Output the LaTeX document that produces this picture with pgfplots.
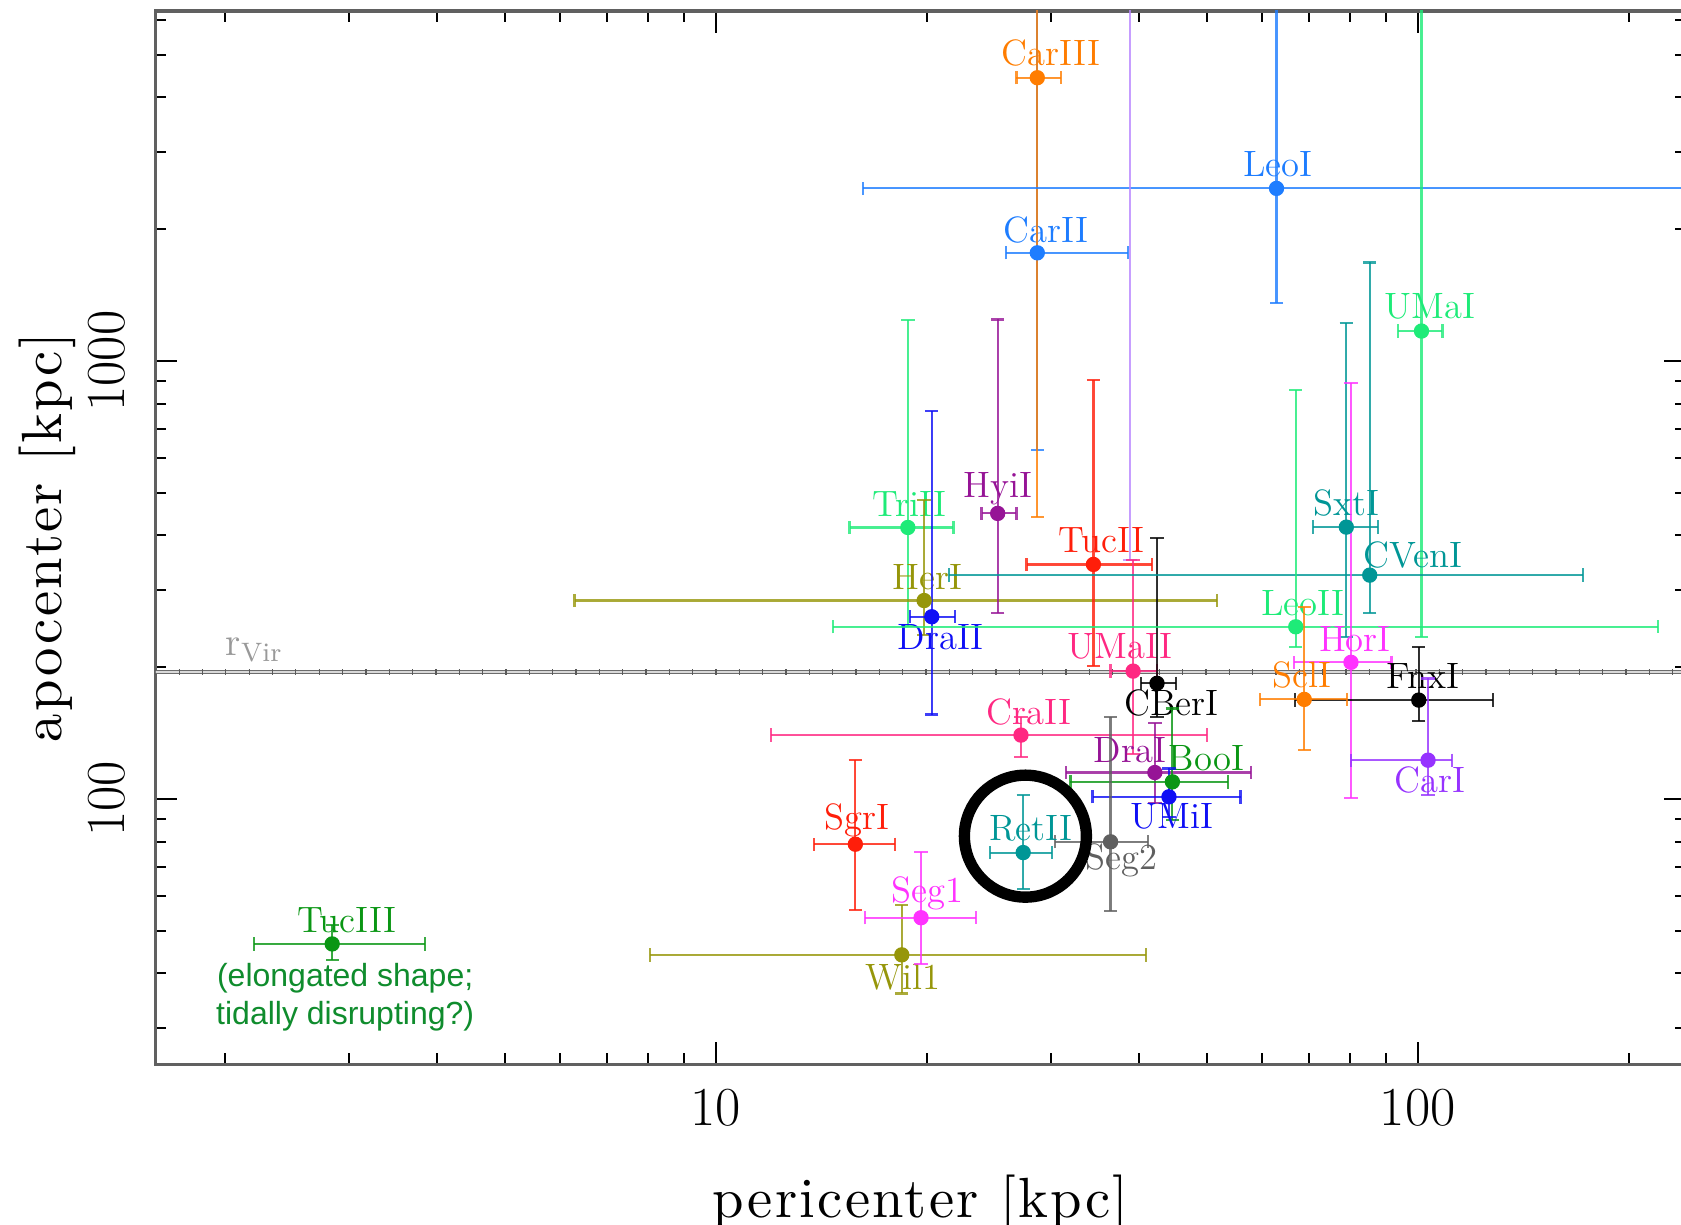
\documentclass[border=0pt]{standalone}
\usepackage{pgfplots}
\pgfplotsset{compat=1.18}
\usepackage{fontspec}
\newfontfamily\annfont{Liberation Sans}
\newfontfamily\lblfont[LetterSpace=4]{lmroman10-regular.otf}
\definecolor{cOrange}{RGB}{255,125,0}
\definecolor{cAzure}{RGB}{30,125,255}
\definecolor{cSpring}{RGB}{30,235,120}
\definecolor{cBlue}{RGB}{15,15,245}
\definecolor{cOlive}{RGB}{150,150,10}
\definecolor{cPurple}{RGB}{150,20,150}
\definecolor{cRed}{RGB}{255,30,10}
\definecolor{cPink}{RGB}{255,40,130}
\definecolor{cGreen}{RGB}{10,150,20}
\definecolor{cGray}{RGB}{95,95,95}
\definecolor{cTeal}{RGB}{0,150,150}
\definecolor{cMagenta}{RGB}{255,50,255}
\definecolor{cViolet}{RGB}{150,50,255}
\definecolor{cLav}{RGB}{185,135,255}
\definecolor{cAnn}{RGB}{15,140,45}
\newcommand\lf{\fontsize{11}{13}\selectfont}
\pgfplotsset{
  gal/.style={only marks, mark=*, mark size=2.1pt, color=#1, draw=#1, fill=#1,
    error bars/.cd, x dir=both, y dir=both, x explicit, y explicit,
    error bar style={line width=0.65pt, draw opacity=0.8},
    error mark options={rotate=90, mark size=2pt, line width=0.65pt},
    /pgfplots/.cd},
}
% color, x, xlo, xhi, y, ylo, yhi, name, label shift
\newcommand\gal[9]{%
  \addplot[gal=#1] table[row sep=\\, x=x, y=y,
    x error plus expr=\thisrow{xh}-\thisrow{x}, x error minus expr=\thisrow{x}-\thisrow{xl},
    y error plus expr=\thisrow{yh}-\thisrow{y}, y error minus expr=\thisrow{y}-\thisrow{yl}]
    {x xl xh y yl yh\\ #2 #3 #4 #5 #6 #7\\};
  \node[font=\lf, text=#1, inner sep=0pt, #9] at (axis cs:#2,#5) {#8};
}
\begin{document}
\begin{tikzpicture}
\begin{axis}[
  scale only axis, width=459.2pt, height=316pt,
  xmode=log, ymode=log,
  xmin=1.59, xmax=241, ymin=24.8, ymax=6300,
  xtick={10,100}, xticklabels={10,100},
  ytick={100,1000}, yticklabels={100,1000},
  minor xtick={2,3,4,5,6,7,8,9,20,30,40,50,60,70,80,90,200},
  minor ytick={30,40,50,60,70,80,90,200,300,400,500,600,700,800,900,2000,3000,4000,5000,6000},
  major tick length=6.6pt, minor tick length=3.3pt,
  tick style={black, line width=0.6pt},
  axis line style={draw=gray!75!black, line width=1pt},
  tick label style={font=\fontsize{16.5}{19}\selectfont},
  xticklabel style={anchor=north, inner sep=0pt, outer sep=7.4pt},
  yticklabel style={rotate=90, anchor=south, inner sep=0pt, outer sep=9pt},
  xlabel={pericenter [kpc]}, ylabel={apocenter [kpc]},
  label style={font=\lblfont\fontsize{17}{20}\selectfont},
  xlabel style={at={(axis description cs:0.5,-0.1044)}, anchor=north, inner sep=0pt},
  ylabel style={at={(axis description cs:-0.0893,0.5)}, anchor=north, inner sep=0pt},
]
% virial radius
\addplot[draw=gray!85!black, double=gray!30, double distance=0.5pt, line width=0.45pt, forget plot] coordinates {(1.59,195) (241,195)};
\addplot[draw=gray!70!black, line width=1.6pt, dash pattern=on 0.35pt off 6.65pt, forget plot] coordinates {(1.59,195) (241,195)};
\node[anchor=south west, inner sep=0pt, text=gray!80, yshift=2.7pt, font=\fontsize{12}{14}\selectfont] at (axis cs:2.0,195) {$\mathrm{r}_{\mathrm{Vir}}$};

\gal{cAzure}{28.7}{25.9}{38.6}{1767}{626}{100000}{CarII}{xshift=2.5pt,yshift=6.8pt}
\gal{cOrange}{28.7}{26.8}{31.0}{4436}{441}{100000}{CarIII}{xshift=4.2pt,yshift=7.4pt}
\gal{cAzure}{62.9}{16.2}{1000}{2479}{1359}{100000}{LeoI}{xshift=0.4pt,yshift=7.3pt}
\gal{cSpring}{101.2}{93.8}{108.4}{1171}{234.7}{100000}{UMaI}{xshift=2.5pt,yshift=7.3pt}
\gal{cSpring}{18.77}{15.5}{21.8}{417}{248}{1240}{TriII}{xshift=0.5pt,yshift=7pt}
\gal{cOlive}{19.8}{6.29}{51.8}{284}{237}{482}{HerI}{xshift=1.1pt,yshift=7.1pt}
\gal{cBlue}{20.3}{18.9}{21.9}{260.8}{156}{769}{DraII}{xshift=2.7pt,yshift=-6.2pt}
\gal{cPurple}{25.2}{23.9}{26.8}{449}{265.5}{1245}{HyiI}{xshift=0.1pt,yshift=7.5pt}
\gal{cRed}{34.5}{27.7}{41.8}{343.4}{201}{905}{TucII}{xshift=2.5pt,yshift=7.3pt}
\addplot[gal=cLav, mark=none] table[row sep=\\, x=x, y=y,
    y error plus expr=\thisrow{yh}-\thisrow{y}, y error minus expr=\thisrow{y}-\thisrow{yl},
    x error plus expr=0, x error minus expr=0]
    {x y yl yh\\ 38.9 30000 352 30000\\};
\gal{cPink}{39.3}{36.5}{42.5}{196}{127}{352}{UMaII}{xshift=-4pt,yshift=7.3pt}
\gal{black}{42.5}{40.3}{45.2}{183.8}{154}{393.8}{CBerI}{xshift=4.3pt,yshift=-6pt}
\gal{cPink}{27.2}{11.97}{50.1}{140}{125}{154}{CraII}{xshift=2.5pt,yshift=7pt}
\gal{cPurple}{42.2}{31.5}{57.8}{115}{98}{149}{DraI}{xshift=-7.5pt,yshift=6.7pt}
\gal{cGreen}{44.7}{32.0}{53.7}{109.5}{89.6}{161}{BooI}{xshift=10.2pt,yshift=7pt}
\gal{cBlue}{44.2}{34.4}{55.9}{101.2}{91}{117.5}{UMiI}{xshift=0.9pt,yshift=-6pt}
\gal{cGray}{36.5}{30.4}{41.3}{79.9}{55.5}{154}{Seg2}{xshift=3.2pt,yshift=-5.5pt}
\gal{cTeal}{27.4}{24.6}{30.1}{75.5}{62.3}{102}{RetII}{xshift=2.3pt,yshift=7.2pt}
\gal{cRed}{15.8}{13.8}{18.0}{78.9}{55.8}{123}{SgrI}{xshift=0.4pt,yshift=7.2pt}
\gal{cOlive}{18.4}{8.05}{41.0}{44.1}{36}{57.3}{Wil1}{xshift=0.3pt,yshift=-6.6pt}
\gal{cMagenta}{19.6}{16.3}{23.5}{53.6}{42}{75.8}{Seg1}{xshift=2pt,yshift=7.3pt}
\gal{cGreen}{2.84}{2.20}{3.85}{46.7}{42.9}{51.6}{TucIII}{xshift=4.4pt,yshift=7.1pt}
\gal{cTeal}{79.1}{70.9}{87.8}{417.8}{234.7}{1223}{SxtI}{xshift=0pt,yshift=7.3pt}
\gal{cTeal}{85.4}{21.5}{172}{324.6}{266}{1680}{CVenI}{xshift=13pt,yshift=6pt}
\gal{cSpring}{67.0}{14.7}{220}{247.4}{222.7}{859}{LeoII}{xshift=2.2pt,yshift=7pt}
\gal{cMagenta}{80.3}{66.6}{91.7}{205.2}{100.4}{892}{HorI}{xshift=1.2pt,yshift=6.9pt}
\gal{black}{100.3}{66.8}{127.8}{168.3}{151}{222}{FnxI}{xshift=1.3pt,yshift=7.2pt}
\gal{cOrange}{68.9}{59.6}{79.2}{168.9}{129.4}{274}{SclI}{xshift=-0.8pt,yshift=7.3pt}
\gal{cViolet}{103.4}{80.3}{111.7}{122.7}{102}{188.6}{CarI}{xshift=0.5pt,yshift=-6pt}

\node[align=center, font=\annfont\fontsize{9.6}{11.6}\selectfont, text=cAnn, inner sep=0pt, xshift=3.9pt, yshift=-16pt] at (axis cs:2.84,46.7) {(elongated shape;\\tidally disrupting?)};
\draw[line width=3.4pt] (axis cs:27.6,82.3) circle[radius=18.3pt];
\end{axis}
\pgfresetboundingbox
\path[use as bounding box] (-46.6pt,-48.1pt) rectangle (457.7pt,319.3pt);
\end{tikzpicture}
\end{document}
